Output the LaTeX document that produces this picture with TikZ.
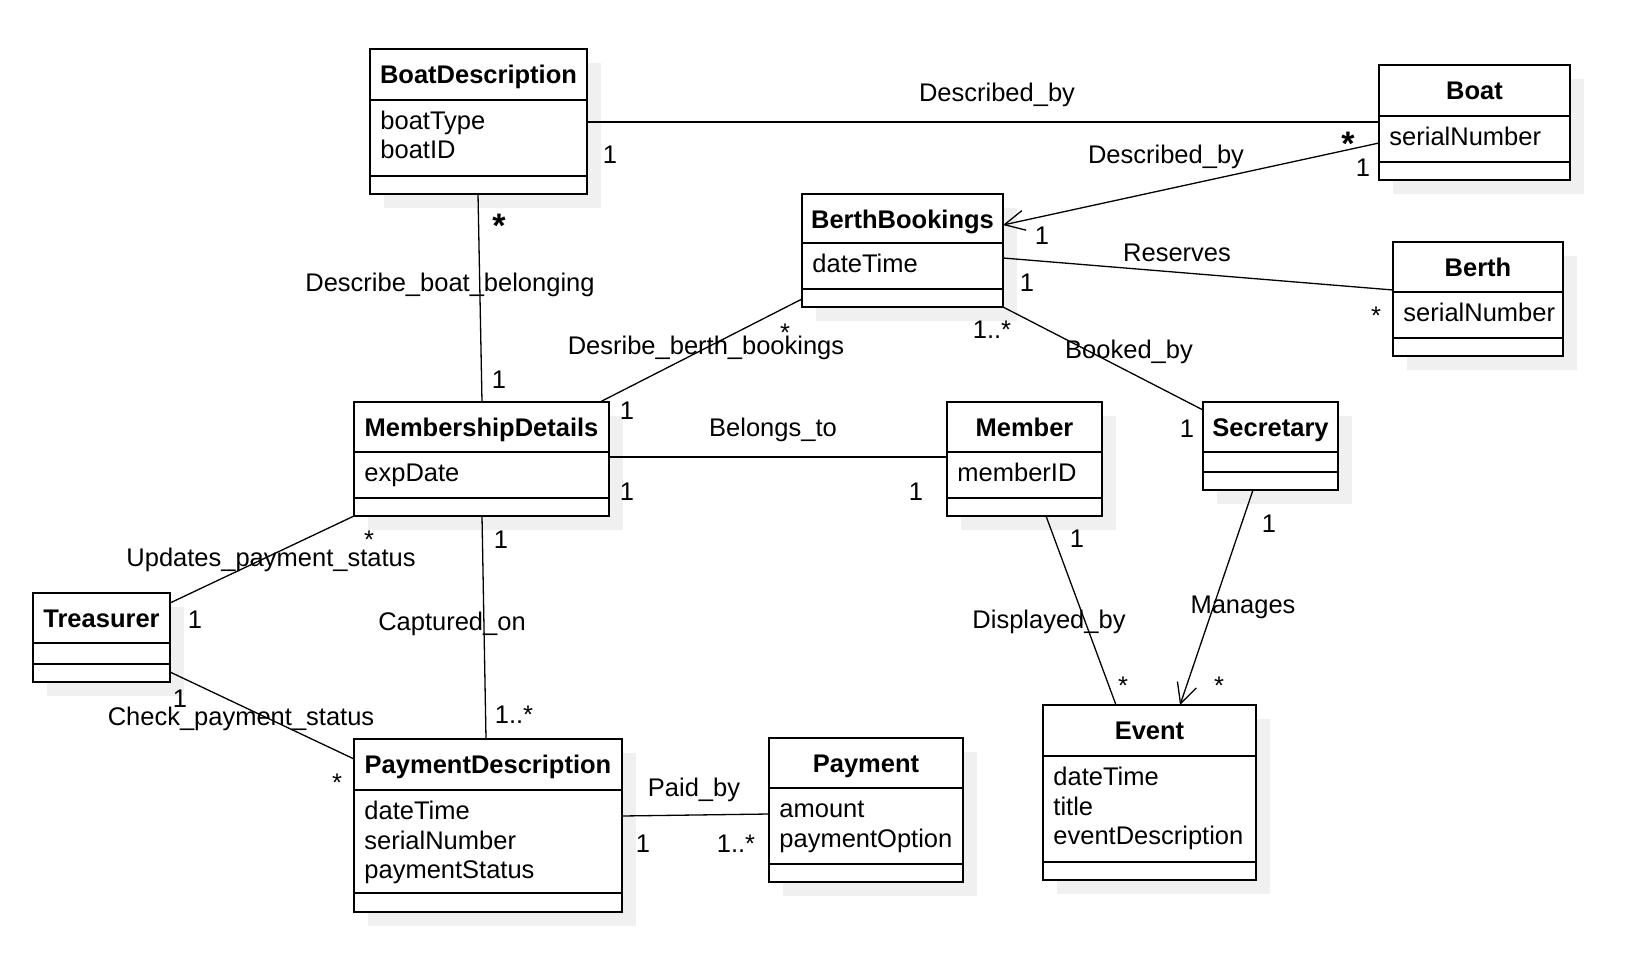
\documentclass[tikz,border=0pt]{standalone}
\usepackage{fontspec}
\setmainfont{Liberation Sans}
\usetikzlibrary{fit,arrows.meta}
\definecolor{shadowc}{HTML}{F0F0F0}
\tikzset{
  clsbox/.style={draw, line width=1pt, fill=white, inner sep=0pt, outer sep=0pt},
  shade box/.style={fill=shadowc},
  divider/.style={line width=1pt},
  ttl/.style={font=\fontsize{12.75pt}{14.75pt}\selectfont\bfseries, anchor=base, inner sep=0pt},
  attr/.style={anchor=base west, inner sep=0pt},
  lbl/.style={anchor=base, inner sep=0pt},
  bigast/.style={anchor=base, inner sep=0pt, font=\fontsize{17pt}{17pt}\selectfont\bfseries},
  conn/.style={line width=0.65pt},
  openarrow/.style={-{Straight Barb[length=10pt,width=10pt,line width=0.65pt]}},
}
\newcommand\umlclass[9]{%
  \fill[shade box] (#2+14,#3+14) rectangle (#4+14,#5+14);
  \node[clsbox, fit={(#2,#3) (#4,#5)}] (#1) {};
  \draw[divider] (#2,#6) -- (#4,#6) (#2,#7) -- (#4,#7);
  \node[ttl] (#1-t) at ({(#2+#4)/2},#3+34.5) {#8};
  \foreach \a [count=\i from 0] in {#9} {
    \node[attr] (#1-a\i) at (#2+10,#6+29.5+29.5*\i) {\a};
  }%
}
\newcommand\umlclassempty[8]{%
  \fill[shade box] (#2+14,#3+14) rectangle (#4+14,#5+14);
  \node[clsbox, fit={(#2,#3) (#4,#5)}] (#1) {};
  \draw[divider] (#2,#6) -- (#4,#6) (#2,#7) -- (#4,#7);
  \node[ttl] (#1-t) at ({(#2+#4)/2},#3+34.5) {#8};
}
\begin{document}
\begin{tikzpicture}[x=0.5pt,y=-0.5pt,font=\fontsize{12.75pt}{14.75pt}\selectfont]
\useasboundingbox (0,0) rectangle (1636,962);
% classes
\umlclass{bd}{370}{49}{587}{194}{100}{176}{BoatDescription}{boatType,boatID}
\umlclass{boat}{1379}{65}{1570}{180}{116}{162}{Boat}{serialNumber}
\umlclass{bb}{802}{194}{1003}{307}{243}{289}{BerthBookings}{dateTime}
\umlclass{berth}{1393}{242}{1563}{356}{292}{338}{Berth}{serialNumber}
\umlclass{md}{354}{402}{609}{516}{452}{498}{MembershipDetails}{expDate}
\umlclass{member}{947}{402}{1102}{516}{452}{498}{Member}{memberID}
\umlclassempty{sec}{1203}{402}{1338}{490}{452}{472}{Secretary}
\umlclassempty{tr}{33}{593}{170}{682}{643}{664}{Treasurer}
\umlclass{pd}{354}{739}{622}{912}{790}{893}{PaymentDescription}{dateTime,serialNumber,paymentStatus}
\umlclass{pay}{769}{738}{963}{882}{788}{864}{Payment}{amount,paymentOption}
\umlclass{ev}{1043}{705}{1256}{880}{756}{862}{Event}{dateTime,title,eventDescription}
% connectors
\draw[conn] ([shift={(217,73)}]bd.north west) -- ([shift={(0,57)}]boat.north west);
\draw[conn,openarrow] ([shift={(0,78)}]boat.north west) -- ([shift={(201,31)}]bb.north west);
\draw[conn] ([shift={(201,64)}]bb.north west) -- ([shift={(0,48)}]berth.north west);
\draw[conn] (bb.south east) -- ([shift={(0,8)}]sec.north west);
\draw[conn] ([shift={(246,0)}]md.north west) -- ([shift={(0,105)}]bb.north west);
\draw[conn] ([shift={(108,145)}]bd.north west) -- ([shift={(128,0)}]md.north west);
\draw[conn] ([shift={(255,55)}]md.north west) -- ([shift={(0,55)}]member.north west);
\draw[conn] ([shift={(137,10)}]tr.north west) -- (md.south west);
\draw[conn] ([shift={(128,114)}]md.north west) -- ([shift={(132,0)}]pd.north west);
\draw[conn] ([shift={(137,79)}]tr.north west) -- ([shift={(0,20)}]pd.north west);
\draw[conn] ([shift={(268,77)}]pd.north west) -- ([shift={(0,76)}]pay.north west);
\draw[conn] ([shift={(99,114)}]member.north west) -- ([shift={(73,0)}]ev.north west);
\draw[conn,openarrow] ([shift={(50,88)}]sec.north west) -- ([shift={(137,0)}]ev.north west);
% association labels
\node[lbl] (l1) at (997,102) {Described\_by};
\node[lbl] (l2) at (1166,164) {Described\_by};
\node[lbl] (l3) at (1177,262) {Reserves};
\node[lbl] (l4) at (1129,358) {Booked\_by};
\node[lbl] (l5) at (706,355) {Desribe\_berth\_bookings};
\node[lbl] (l6) at (450,292) {Describe\_boat\_belonging};
\node[lbl] (l7) at (773,436) {Belongs\_to};
\node[lbl] (l8) at (271,566) {Updates\_payment\_status};
\node[lbl] (l9) at (452,630) {Captured\_on};
\node[lbl] (l10) at (241,725) {Check\_payment\_status};
\node[lbl] (l11) at (694,796) {Paid\_by};
\node[lbl] (l12) at (1049,628) {Displayed\_by};
\node[lbl] (l13) at (1243,613) {Manages};
% multiplicities
\node[lbl] (m1) at (610,164) {1};
\node[bigast] (m2) at (1348,156) {*};
\node[lbl] (m3) at (1363,177) {1};
\node[lbl] (m4) at (1042,245) {1};
\node[lbl] (m5) at (1027,292) {1};
\node[lbl] (m6) at (1376,324) {*};
\node[lbl] (m7) at (992,338) {1..*};
\node[lbl] (m8) at (1187,437) {1};
\node[lbl] (m9) at (785,342) {*};
\node[lbl] (m10) at (627,419) {1};
\node[bigast] (m11) at (499,238) {*};
\node[lbl] (m12) at (499,388) {1};
\node[lbl] (m13) at (627,500) {1};
\node[lbl] (m14) at (916,500) {1};
\node[lbl] (m15) at (369,548) {*};
\node[lbl] (m16) at (195,628) {1};
\node[lbl] (m17) at (501,548) {1};
\node[lbl] (m18) at (514,723) {1..*};
\node[lbl] (m19) at (180,707) {1};
\node[lbl] (m20) at (337,791) {*};
\node[lbl] (m21) at (643,852) {1};
\node[lbl] (m22) at (736,852) {1..*};
\node[lbl] (m23) at (1077,547) {1};
\node[lbl] (m24) at (1123,694) {*};
\node[lbl] (m25) at (1269,532) {1};
\node[lbl] (m26) at (1219,694) {*};
\end{tikzpicture}
\end{document}
